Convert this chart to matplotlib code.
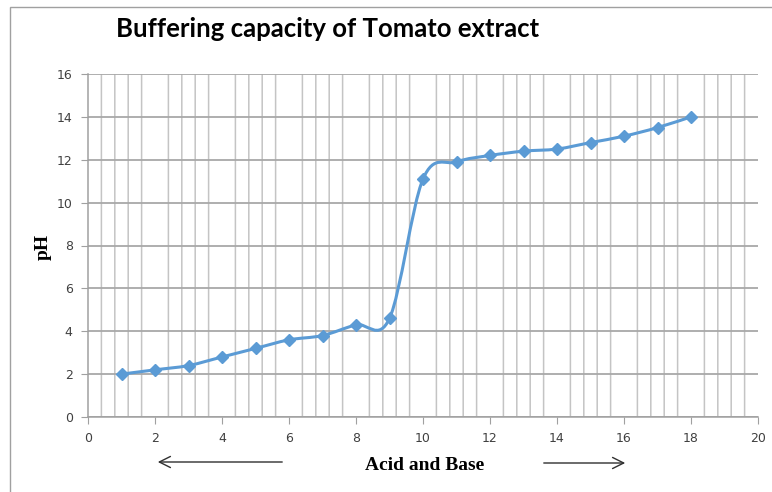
import numpy as np
import matplotlib.pyplot as plt
from matplotlib.path import Path
from matplotlib.patches import PathPatch, Rectangle
from matplotlib.ticker import MultipleLocator


TITLE = 'Buffering capacity of Tomato extract'
ACID_BASE = [1, 2, 3, 4, 5, 6, 7, 8, 9, 10, 11, 12, 13, 14, 15, 16, 17, 18]
PH = [2.0, 2.2, 2.4, 2.8, 3.2, 3.6, 3.8, 4.3, 4.6, 11.1,
      11.9, 12.2, 12.4, 12.5, 12.8, 13.1, 13.5, 14.0]
LINE_COLOR = '#5b9bd5'
GRID_COLOR = '#c4c4c4'


def smooth_path(xs, ys):
    # excel style smoothed line: cubic bezier with catmull-rom control points
    pts = np.column_stack([xs, ys]).astype(float)
    ext = np.vstack([pts[0], pts, pts[-1]])
    verts = [pts[0]]
    codes = [Path.MOVETO]
    for i in range(len(pts) - 1):
        p0, p1, p2, p3 = ext[i], ext[i + 1], ext[i + 2], ext[i + 3]
        c1 = p1 + (p2 - p0) / 6.0
        c2 = p2 - (p3 - p1) / 6.0
        verts += [c1, c2, p2]
        codes += [Path.CURVE4] * 3
    return Path(verts, codes)


fig = plt.figure(figsize=(7.72, 4.92), dpi=100)
fig.patches.append(Rectangle((10 / 772, -0.1), 1.2, 1 - 7 / 492 + 0.1,
                             transform=fig.transFigure, fill=False,
                             edgecolor='#a0a0a0', linewidth=1.0))
ax = fig.add_axes([88 / 772, 1 - 417 / 492, 670 / 772, 343 / 492])

ax.set_xlim(0, 20)
ax.set_ylim(0, 16)
ax.xaxis.set_major_locator(MultipleLocator(2))
ax.xaxis.set_minor_locator(MultipleLocator(0.4))
ax.yaxis.set_major_locator(MultipleLocator(2))
ax.grid(axis='x', which='minor', color=GRID_COLOR, linewidth=1.1, snap=False)
ax.grid(axis='y', which='major', color='#a8a8a8', linewidth=1.3)
ax.set_axisbelow(True)

for side in ['top', 'right']:
    ax.spines[side].set_visible(False)
for side in ['left', 'bottom']:
    ax.spines[side].set_color('#a0a0a0')
    ax.spines[side].set_linewidth(1.1)
ax.tick_params(which='major', length=5, color='#a0a0a0', labelsize=9,
               labelcolor='#404040', pad=6)
ax.tick_params(which='minor', length=0)

ax.add_patch(PathPatch(smooth_path(ACID_BASE, PH), facecolor='none',
                       edgecolor=LINE_COLOR, linewidth=2.2, zorder=3))
ax.plot(ACID_BASE, PH, linestyle='none', marker='D', markersize=6,
        color=LINE_COLOR, zorder=4)

fig.text(328 / 772, 1 - 29 / 492, TITLE, fontsize=18.5, fontweight='bold',
         family='Lato', ha='center', va='center')
fig.text(43 / 772, 1 - 247 / 492, 'pH', fontsize=14, fontweight='bold',
         family='Liberation Serif', rotation=90, ha='center', va='center')
fig.text(425 / 772, 1 - 465 / 492, 'Acid and Base', fontsize=14,
         fontweight='bold', family='Liberation Serif', ha='center',
         va='center')

arrow = dict(arrowstyle='->', color='#303030', linewidth=1.0,
             mutation_scale=20)
ax.annotate('', xy=(155 / 772, 1 - 462 / 492), xytext=(285 / 772, 1 - 462 / 492),
            xycoords='figure fraction', textcoords='figure fraction',
            arrowprops=arrow, annotation_clip=False)
ax.annotate('', xy=(628 / 772, 1 - 463 / 492), xytext=(541 / 772, 1 - 463 / 492),
            xycoords='figure fraction', textcoords='figure fraction',
            arrowprops=arrow, annotation_clip=False)

fig.savefig('out.png', dpi=100)
